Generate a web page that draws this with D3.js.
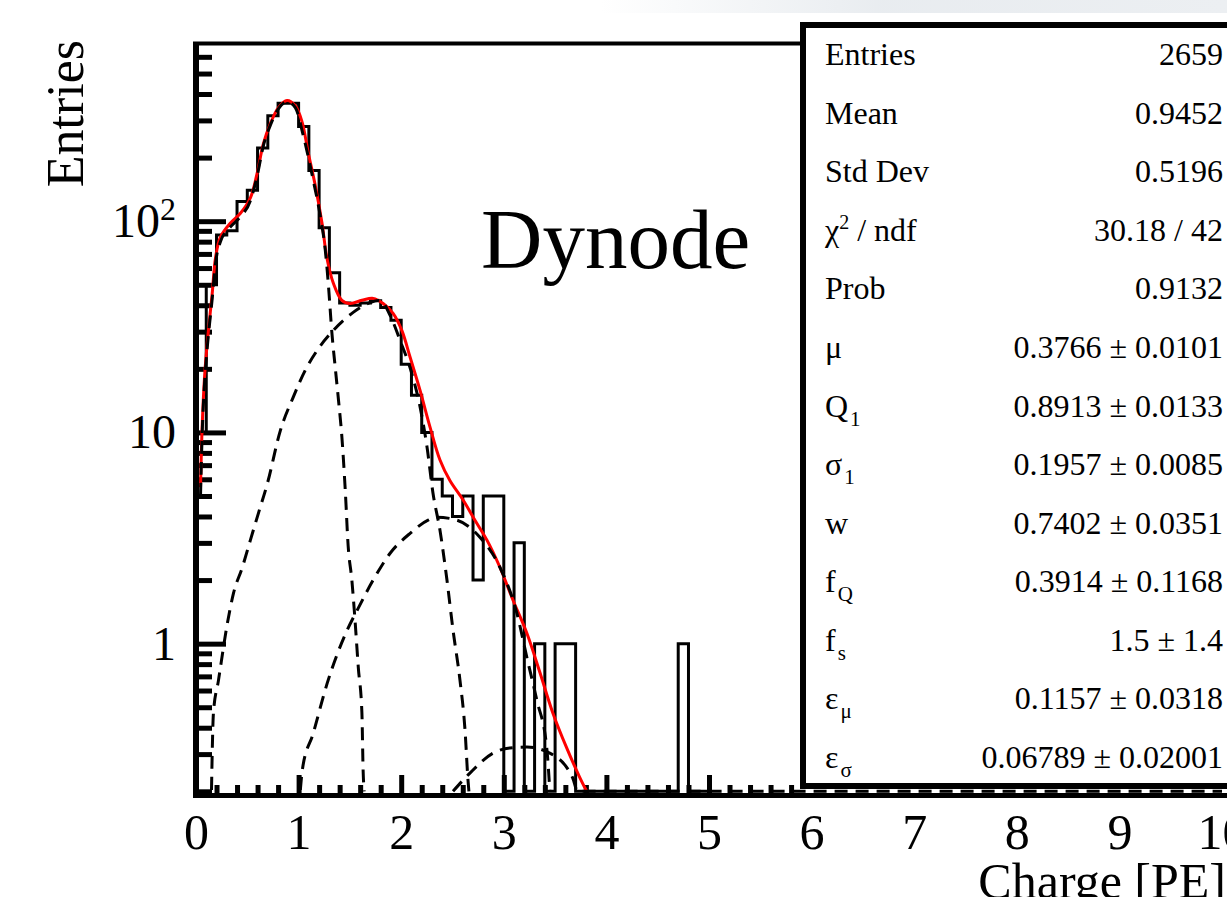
<!DOCTYPE html>
<html lang="en">
<head>
<meta charset="UTF-8">
<title>Dynode charge spectrum</title>
<script src="https://cdnjs.cloudflare.com/ajax/libs/d3/7.9.0/d3.min.js"></script>
<style>
    body { margin: 0; padding: 0; background: #fff; }
    svg { display: block; font-family: "Liberation Serif", "Times New Roman", serif; }
</style>
</head>
<body>
<div id="canvas"></div>
<script>
// histogram, 0.1 PE bins starting at 0
const binWidth = 0.1;
const counts = [10, 50, 86, 90, 124, 140, 222, 316, 362, 362,
                281, 174, 93, 57, 41, 40, 41, 42, 39, 34,
                21, 15, 10, 6, 5, 4, 5, 2, 5, 5,
                0, 3, 0, 1, 0, 1, 1, 0, 0, 0,
                0, 0, 0, 0, 0, 0, 0, 1, 0, 0];

// total fit (red), [charge, entries]
const fitCurve = [[0.044, 5.5], [0.060, 10.6], [0.083, 18.2], [0.109, 26.4], [0.158, 45.5], [0.190, 67],
    [0.238, 84], [0.336, 98], [0.433, 109], [0.530, 129], [0.595, 168], [0.657, 233], [0.725, 290],
    [0.803, 345], [0.887, 373], [0.968, 352], [1.033, 296], [1.094, 211], [1.162, 148], [1.228, 98],
    [1.276, 67], [1.338, 51], [1.422, 42.2], [1.503, 40.8], [1.617, 42.2], [1.727, 43.1], [1.824, 40.8],
    [1.921, 36.6], [2.006, 30.4], [2.087, 22.7], [2.184, 15.8], [2.281, 10.6], [2.378, 7.4], [2.476, 5.9],
    [2.602, 4.8], [2.719, 3.84], [2.836, 3.09], [2.962, 2.30], [3.089, 1.61], [3.225, 1.12], [3.352, 0.73],
    [3.478, 0.47], [3.614, 0.32], [3.740, 0.233], [3.808, 0.196]];

// fit components (dashed)
const pe1Curve = [[0.044, 5.0], [0.060, 9.8], [0.083, 17], [0.109, 25], [0.158, 43], [0.190, 63], [0.238, 80],
    [0.336, 94], [0.433, 105], [0.530, 125], [0.595, 163], [0.657, 228], [0.725, 285], [0.803, 340],
    [0.887, 368], [0.968, 345], [1.046, 254], [1.143, 156], [1.211, 106], [1.260, 73], [1.289, 51],
    [1.325, 29.4], [1.357, 20.3], [1.389, 14.2], [1.422, 9.5], [1.455, 5.3], [1.483, 2.9], [1.519, 2.0],
    [1.552, 1.25], [1.582, 0.77], [1.617, 0.47], [1.629, 0.25], [1.639, 0.199]];
const pe2Curve = [[0.151, 0.203], [0.170, 0.47], [0.219, 0.67], [0.306, 1.25], [0.365, 1.73], [0.452, 2.30],
    [0.530, 3.09], [0.608, 4.14], [0.696, 5.74], [0.822, 10.2], [0.948, 14.7], [1.065, 19.7], [1.182, 24.5],
    [1.338, 30.4], [1.532, 37.0], [1.698, 41.2], [1.795, 42.2], [1.892, 35.8], [1.989, 27.3], [2.103, 19.0],
    [2.184, 13.2], [2.252, 8.5], [2.310, 5.15], [2.378, 3.44], [2.446, 2.00], [2.505, 1.16], [2.573, 0.67],
    [2.622, 0.39], [2.651, 0.226], [2.660, 0.195]];
const pe3Curve = [[1.017, 0.203], [1.036, 0.252], [1.143, 0.377], [1.279, 0.65], [1.474, 1.16], [1.571, 1.44],
    [1.727, 2.00], [1.892, 2.68], [2.087, 3.33], [2.262, 3.84], [2.349, 3.97], [2.544, 3.84], [2.767, 3.19],
    [2.962, 2.30], [3.128, 1.39], [3.225, 0.86], [3.322, 0.54], [3.419, 0.32], [3.448, 0.203]];
const pe4Curve = [[2.505, 0.196], [2.670, 0.244], [2.894, 0.303], [3.059, 0.321], [3.225, 0.324],
    [3.448, 0.303], [3.672, 0.231], [3.720, 0.196], [10, 0]];

const xTicks = [0, 1, 2, 3, 4, 5, 6, 7, 8, 9, 10];
const yTicks = [1, 10, 100];
const yMinorTicks = [0.2, 0.3, 0.4, 0.5, 0.6, 0.7, 0.8, 0.9, 2, 3, 4, 5, 6, 7, 8, 9,
                     20, 30, 40, 50, 60, 70, 80, 90, 200, 300, 400, 500, 600];

const statNames = ["Entries", "Mean", "Std Dev", "χ^{2} / ndf", "Prob", "μ", "Q_{1}", "σ_{1}",
                   "w", "f_{Q}", "f_{s}", "ε_{μ}", "ε_{σ}"];
const statValues = ["2659", "0.9452", "0.5196", "30.18 / 42", "0.9132", "0.3766 ± 0.0101",
                    "0.8913 ± 0.0133", "0.1957 ± 0.0085", "0.7402 ± 0.0351", "0.3914 ± 0.1168",
                    "1.5 ± 1.4", "0.1157 ± 0.0318", "0.06789 ± 0.02001"];

const W = 1227, H = 897;
const yMin = 0.2;
const x = d3.scaleLinear().domain([0, 10]).range([196, 1222]);
const y = d3.scaleLog().domain([yMin, 690]).range([791.3, 44]);
const clampV = v => Math.max(v, yMin);

const svg = d3.select("#canvas").append("svg").attr("width", W).attr("height", H);

// faint band at the top
const defs = svg.append("defs");
const grad = defs.append("linearGradient").attr("id", "band");
grad.append("stop").attr("offset", "0%").attr("stop-color", "#e6eaee").attr("stop-opacity", 0);
grad.append("stop").attr("offset", "45%").attr("stop-color", "#e6eaee").attr("stop-opacity", 0.9);
grad.append("stop").attr("offset", "100%").attr("stop-color", "#eceff2").attr("stop-opacity", 1);
svg.append("rect").attr("x", 600).attr("y", 0).attr("width", W - 600).attr("height", 13).attr("fill", "url(#band)");

defs.append("clipPath").attr("id", "plotClip")
    .append("rect").attr("x", 199).attr("y", 44).attr("width", 1040).attr("height", 751);

const plot = svg.append("g").attr("clip-path", "url(#plotClip)");

// histogram outline
const histPts = [[0, yMin]];
counts.forEach((c, i) => {
    histPts.push([i * binWidth, c], [(i + 1) * binWidth, c]);
});
histPts.push([counts.length * binWidth, yMin]);
const stepLine = d3.line().x(d => x(d[0])).y(d => y(clampV(d[1])));
plot.append("path").attr("d", stepLine(histPts))
    .attr("fill", "none").attr("stroke", "black").attr("stroke-width", 3);

// total fit
const smooth = d3.line().x(d => x(d[0])).y(d => y(clampV(d[1]))).curve(d3.curveCatmullRom.alpha(0.5));
plot.append("path").attr("d", smooth(fitCurve))
    .attr("fill", "none").attr("stroke", "#ff0000").attr("stroke-width", 3);

// y axis ticks and labels
const yAxis = svg.append("g").attr("transform", "translate(196,0)")
    .call(d3.axisLeft(y).tickValues(yTicks).tickSize(-30).tickPadding(20)
        .tickFormat(d => d === 100 ? "10" : String(d)));
yAxis.select(".domain").remove();
yAxis.attr("font-size", 48).attr("font-family", null);
yAxis.selectAll(".tick line").attr("stroke-width", 5);
yAxis.selectAll(".tick text").filter(d => d === 100)
    .append("tspan").attr("dy", -17).attr("font-size", 32).text("2");

const yMinor = svg.append("g").attr("transform", "translate(196,0)")
    .call(d3.axisLeft(y).tickValues(yMinorTicks).tickSize(-16).tickFormat(""));
yMinor.select(".domain").remove();
yMinor.selectAll(".tick line").attr("stroke-width", 5);

// x axis ticks and labels
const xAxis = svg.append("g").attr("transform", "translate(0,793)")
    .call(d3.axisBottom(x).tickValues(xTicks).tickSize(-18).tickPadding(20));
xAxis.select(".domain").remove();
xAxis.attr("font-size", 50).attr("font-family", null);
xAxis.selectAll(".tick line").attr("stroke-width", 5);

const xMinorTicks = d3.range(0, 50).map(i => i * 0.2).filter(v => Math.abs(v - Math.round(v)) > 1e-6);
const xMinor = svg.append("g").attr("transform", "translate(0,793)")
    .call(d3.axisBottom(x).tickValues(xMinorTicks).tickSize(-8).tickFormat(""));
xMinor.select(".domain").remove();
xMinor.selectAll(".tick line").attr("stroke-width", 5);

// frame
svg.append("line").attr("x1", 193).attr("x2", W).attr("y1", 43.5).attr("y2", 43.5)
    .attr("stroke", "black").attr("stroke-width", 4);
svg.append("line").attr("x1", 196).attr("x2", 196).attr("y1", 42).attr("y2", 798)
    .attr("stroke", "black").attr("stroke-width", 6);

// stats box
svg.append("rect").attr("x", 803).attr("y", 25).attr("width", 450).attr("height", 768).attr("fill", "white");
svg.append("line").attr("x1", 193).attr("x2", W).attr("y1", 795.5).attr("y2", 795.5)
    .attr("stroke", "black").attr("stroke-width", 5);
svg.append("rect").attr("x", 803).attr("y", 25).attr("width", 450).attr("height", 761)
    .attr("fill", "none").attr("stroke", "black").attr("stroke-width", 6);

// fit components on top
const comp = d3.line().x(d => x(d[0])).y(d => y(clampV(d[1]))).curve(d3.curveMonotoneX);
[pe1Curve, pe2Curve, pe3Curve, pe4Curve].forEach(c => {
    plot.append("path").attr("d", comp(c))
        .attr("fill", "none").attr("stroke", "black").attr("stroke-width", 3)
        .attr("stroke-dasharray", "13,8");
});
plot.raise();

// stats text
const row = d3.scalePoint().domain(statNames).range([65, 768]);
const stats = svg.append("g").attr("font-size", 32).attr("fill", "black");
statNames.forEach((name, i) => {
    const t = stats.append("text").attr("x", 825).attr("y", row(name));
    const parts = name.match(/_\{[^}]*\}|\^\{[^}]*\}|[^_^]+/g);
    let shift = 0;
    parts.forEach(p => {
        if (p[0] === "_") {
            t.append("tspan").attr("dy", 9 - shift).attr("font-size", 21).attr("dx", 2).text(p.slice(2, -1));
            shift = 9;
        } else if (p[0] === "^") {
            t.append("tspan").attr("dy", -12 - shift).attr("font-size", 20).text(p.slice(2, -1));
            shift = -12;
        } else {
            t.append("tspan").attr("dy", -shift).text(p);
            shift = 0;
        }
    });
    stats.append("text").attr("x", 1223).attr("y", row(name)).attr("text-anchor", "end").text(statValues[i]);
});

// titles
svg.append("text").attr("x", 481).attr("y", 268).attr("font-size", 85).text("Dynode");
svg.append("text").attr("transform", "translate(83,40) rotate(-90)").attr("text-anchor", "end")
    .attr("font-size", 52).text("Entries");
svg.append("text").attr("x", 1226).attr("y", 898).attr("text-anchor", "end")
    .attr("font-size", 50).text("Charge [PE]");
</script>
</body>
</html>
